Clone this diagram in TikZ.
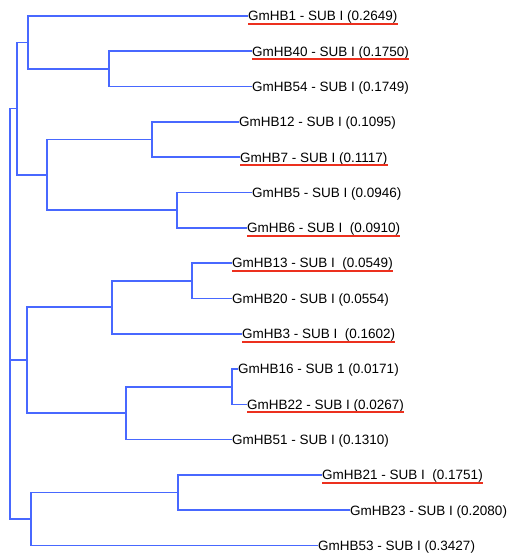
\documentclass[tikz,border=0pt]{standalone}
\usepackage{fontspec}
\setmainfont{Liberation Sans}
\definecolor{treeblue}{RGB}{72,104,255}
\definecolor{markred}{RGB}{236,48,30}
\newcommand{\leaffont}{\fontsize{13.5}{15}\selectfont}

\begin{document}
\begin{tikzpicture}[x=1pt,y=-1pt]
        \tikzstyle{leaf}=[anchor=west,inner sep=0pt,text height=9.7pt,text depth=0pt,font=\leaffont]
        \tikzstyle{branch}=[draw=treeblue,line width=1.6pt]
        \tikzstyle{redline}=[draw=markred,line width=2pt]

        \useasboundingbox (0,0) rectangle (522,556);

        % leaves
        \node[leaf](hb1) at (248,16){GmHB1 - SUB I (0.2649)};
        \node[leaf](hb40) at (252,51.3){GmHB40 - SUB I (0.1750)};
        \node[leaf](hb54) at (252,86.6){GmHB54 - SUB I (0.1749)};
        \node[leaf](hb12) at (239,121.9){GmHB12 - SUB I (0.1095)};
        \node[leaf](hb7) at (240,157.2){GmHB7 - SUB I (0.1117)};
        \node[leaf](hb5) at (252,192.5){GmHB5 - SUB I (0.0946)};
        \node[leaf](hb6) at (247,227.8){GmHB6 - SUB I~ (0.0910)};
        \node[leaf](hb13) at (232,263.1){GmHB13 - SUB I~ (0.0549)};
        \node[leaf](hb20) at (232,298.4){GmHB20 - SUB I (0.0554)};
        \node[leaf](hb3) at (242,333.7){GmHB3 - SUB I~ (0.1602)};
        \node[leaf](hb16) at (238,369){GmHB16 - SUB 1 (0.0171)};
        \node[leaf](hb22) at (247,404.3){GmHB22 - SUB I (0.0267)};
        \node[leaf](hb51) at (232,439.6){GmHB51 - SUB I (0.1310)};
        \node[leaf](hb21) at (322,474.9){GmHB21 - SUB I~ (0.1751)};
        \node[leaf](hb23) at (350,510.2){GmHB23 - SUB I (0.2080)};
        \node[leaf](hb53) at (318,545.5){GmHB53 - SUB I (0.3427)};

        % inner nodes
        \coordinate(n4054) at (109,69);
        \coordinate(n1) at (28,42.5);
        \coordinate(n127) at (152,139.6);
        \coordinate(n56) at (177,210.2);
        \coordinate(n1256) at (47,174.9);
        \coordinate(ntop) at (17,108.7);
        \coordinate(n1320) at (192,280.8);
        \coordinate(n3) at (112,307.2);
        \coordinate(n1622) at (232,386.7);
        \coordinate(n51) at (126,413.1);
        \coordinate(nmid) at (27,360.2);
        \coordinate(n2123) at (178,492.6);
        \coordinate(nbot) at (31,519);
        \coordinate(root) at (10,360.2);

        \draw[branch] (n4054) |- (hb40.west);
        \draw[branch] (n4054) |- (hb54.west);
        \draw[branch] (n1) |- (hb1.west);
        \draw[branch] (n1) |- (n4054);

        \draw[branch] (n127) |- (hb12.west);
        \draw[branch] (n127) |- (hb7.west);
        \draw[branch] (n56) |- (hb5.west);
        \draw[branch] (n56) |- (hb6.west);
        \draw[branch] (n1256) |- (n127);
        \draw[branch] (n1256) |- (n56);

        \draw[branch] (ntop) |- (n1);
        \draw[branch] (ntop) |- (n1256);

        \draw[branch] (n1320) |- (hb13.west);
        \draw[branch] (n1320) |- (hb20.west);
        \draw[branch] (n3) |- (n1320);
        \draw[branch] (n3) |- (hb3.west);

        \draw[branch] (n1622) |- (hb16.west);
        \draw[branch] (n1622) |- (hb22.west);
        \draw[branch] (n51) |- (n1622);
        \draw[branch] (n51) |- (hb51.west);

        \draw[branch] (nmid) |- (n3);
        \draw[branch] (nmid) |- (n51);

        \draw[branch] (n2123) |- (hb21.west);
        \draw[branch] (n2123) |- (hb23.west);
        \draw[branch] (nbot) |- (n2123);
        \draw[branch] (nbot) |- (hb53.west);

        \draw[branch] (root) |- (ntop);
        \draw[branch] (root) |- (nmid);
        \draw[branch] (root) |- (nbot);

        % underlined genes
        \foreach \g in {hb1,hb40,hb7,hb6,hb13,hb3,hb22,hb21}
            \draw[redline] ([yshift=-2.8pt]\g.south west) -- ([yshift=-2.8pt]\g.south east);

\end{tikzpicture}
\end{document}
